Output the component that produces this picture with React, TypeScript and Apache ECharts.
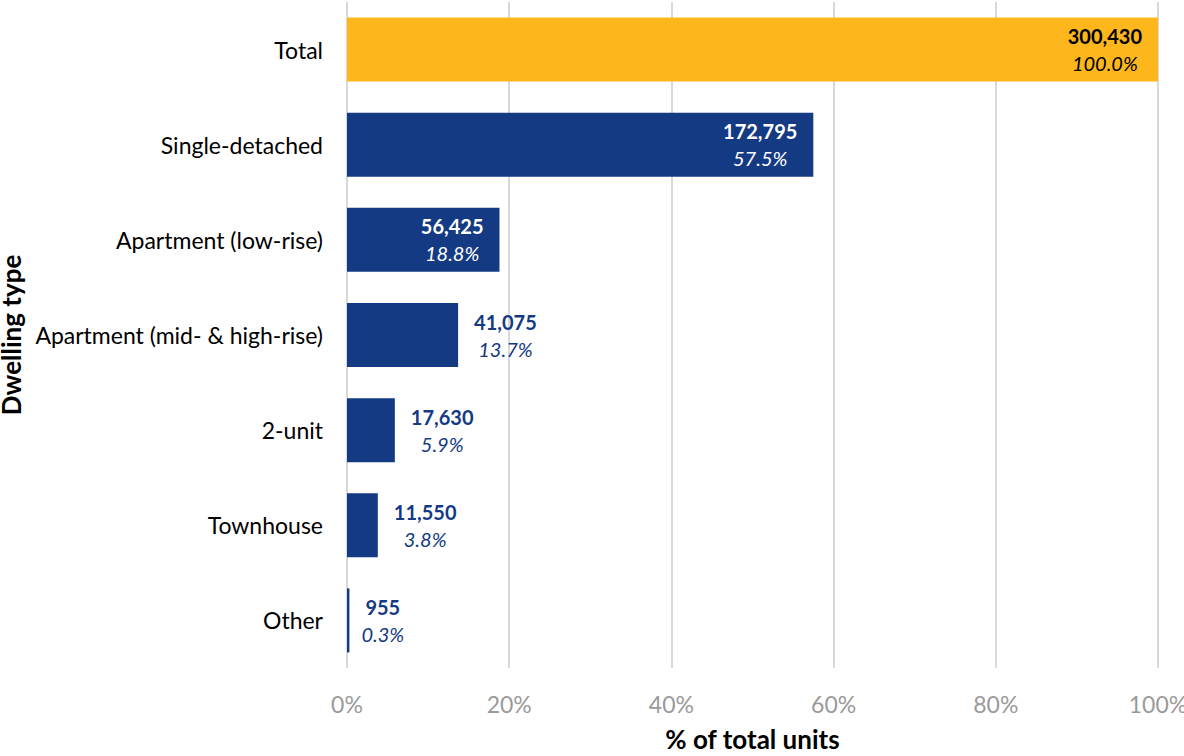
import React, { useEffect, useRef } from "react";
import * as echarts from "echarts";

const categories = [
  "Total",
  "Single-detached",
  "Apartment (low-rise)",
  "Apartment (mid- & high-rise)",
  "2-unit",
  "Townhouse",
  "Other",
];
const percents = [100.0, 57.5, 18.8, 13.7, 5.9, 3.8, 0.3];
const counts = [300430, 172795, 56425, 41075, 17630, 11550, 955];
const xTicks = [0, 20, 40, 60, 80, 100];

const GOLD = "#FDB71C";
const BLUE = "#143A84";
const FONT = "Lato";

export default function App() {
  const ref = useRef<HTMLDivElement>(null);
  useEffect(() => {
    document.body.style.margin = "0";
    const chart = echarts.init(ref.current!, null, { renderer: "svg" });
    const data = percents.map((p, i) => {
      const isTotal = i === 0;
      const inside = p >= 15;
      const color = isTotal ? "#000000" : inside ? "#ffffff" : BLUE;
      return {
        value: p,
        itemStyle: { color: isTotal ? GOLD : BLUE },
        label: {
          show: true,
          position: inside ? "insideRight" : "right",
          distance: 16,
          offset: i === 6 ? [-4, 0] : [0, 0],
          formatter: () =>
            `{a|${counts[i].toLocaleString("en-US")}}\n{b|${p.toFixed(1)}%}`,
          rich: {
            a: {
              fontFamily: FONT,
              fontWeight: "bold",
              fontSize: 20,
              color,
              align: "center",
              lineHeight: 27,
            },
            b: {
              fontFamily: FONT,
              fontStyle: "italic",
              fontSize: 20,
              color,
              align: "center",
              lineHeight: 27,
            },
          },
        },
      };
    });
    chart.setOption({
      animation: false,
      grid: {
        left: 347,
        right: 26,
        top: 2,
        bottom: 88,
        containLabel: false,
        outerBoundsMode: "none",
      },
      xAxis: {
        type: "value",
        min: xTicks[0],
        max: xTicks[xTicks.length - 1],
        interval: 20,
        name: "% of total units",
        nameLocation: "middle",
        nameGap: 58,
        nameTextStyle: {
          fontFamily: FONT,
          fontWeight: "bold",
          fontSize: 26,
          color: "#000",
        },
        axisLine: { show: false },
        axisTick: { show: false },
        axisLabel: {
          formatter: "{value}%",
          color: "#9a9a9a",
          fontFamily: FONT,
          fontSize: 23,
          margin: 24,
        },
        splitLine: { show: true, lineStyle: { color: "#d9d9d9", width: 2 } },
      },
      yAxis: {
        type: "category",
        data: categories,
        inverse: true,
        name: "Dwelling type",
        nameLocation: "middle",
        nameGap: 313,
        nameTextStyle: {
          fontFamily: FONT,
          fontWeight: "bold",
          fontSize: 26,
          color: "#000",
        },
        axisLine: { show: false },
        axisTick: { show: false },
        axisLabel: {
          color: "#000",
          fontFamily: FONT,
          fontSize: 23,
          margin: 24,
        },
        splitLine: { show: false },
      },
      series: [
        {
          type: "bar",
          data,
          barWidth: 64,
        },
      ],
    });
    return () => chart.dispose();
  }, []);
  return <div ref={ref} style={{ width: 1184, height: 756 }} />;
}
